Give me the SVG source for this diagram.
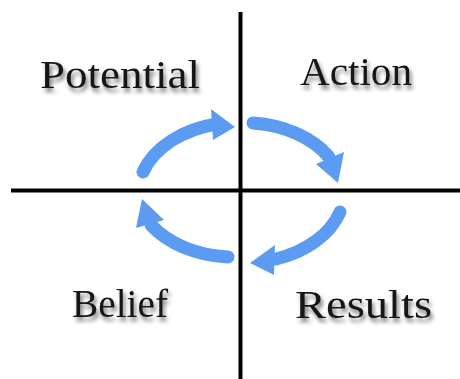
<svg xmlns="http://www.w3.org/2000/svg" width="460" height="379" viewBox="0 0 460 379">
  <defs>
    <filter id="shadow" x="-20%" y="-30%" width="140%" height="180%">
      <feGaussianBlur in="SourceAlpha" stdDeviation="2.2" result="b"/>
      <feOffset in="b" dx="2" dy="4" result="o"/>
      <feComponentTransfer in="o" result="s">
        <feFuncA type="linear" slope="0.55"/>
      </feComponentTransfer>
      <feMerge>
        <feMergeNode in="s"/>
        <feMergeNode in="SourceGraphic"/>
      </feMerge>
    </filter>
  </defs>
  <style>
    .axis { stroke: #000; stroke-width: 4; fill: none; }
    .shaft { stroke: #5b9cf2; stroke-width: 13; fill: none; stroke-linecap: round; }
    .head { fill: #5b9cf2; }
    .label { font-family: "Liberation Serif", "Times New Roman", serif; font-size: 41px; fill: #151515; filter: url(#shadow); }
  </style>
  <rect width="460" height="379" fill="#fff"/>
  <g id="axes">
    <line class="axis" x1="240.5" y1="12" x2="240.5" y2="379"/>
    <line class="axis" x1="11" y1="190.5" x2="460" y2="190.5"/>
  </g>
  <g id="connectors">
    <g id="arrow-potential-action">
      <path class="shaft" d="M143,172 A100,72 0 0 1 217,124"/>
      <polygon class="head" points="211,109 235,127 213,140"/>
    </g>
    <g id="arrow-action-results">
      <path class="shaft" d="M253,123 A100,72 0 0 1 329,157"/>
      <polygon class="head" points="316,164 344,152 338,183"/>
    </g>
    <g id="arrow-results-belief">
      <path class="shaft" d="M340,212 A100,72 0 0 1 276,259"/>
      <polygon class="head" points="275,245 250,263 274,275"/>
    </g>
    <g id="arrow-belief-potential">
      <path class="shaft" d="M228,257 A100,72 0 0 1 151,225"/>
      <polygon class="head" points="136,228 142,199 164,220"/>
    </g>
  </g>
  <g id="node-potential">
    <text class="label" x="40" y="88" textLength="160" lengthAdjust="spacingAndGlyphs">Potential</text>
  </g>
  <g id="node-action">
    <text class="label" x="300" y="85" textLength="112" lengthAdjust="spacingAndGlyphs">Action</text>
  </g>
  <g id="node-belief">
    <text class="label" x="72" y="317" textLength="96" lengthAdjust="spacingAndGlyphs">Belief</text>
  </g>
  <g id="node-results">
    <text class="label" x="295" y="318" textLength="137" lengthAdjust="spacingAndGlyphs">Results</text>
  </g>
</svg>
